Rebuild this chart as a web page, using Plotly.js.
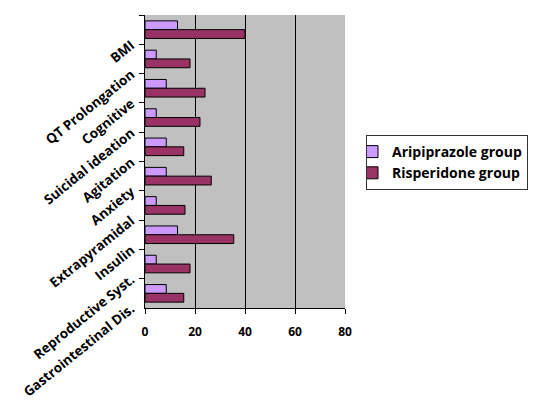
<!DOCTYPE html>
<html>
<head>
<meta charset="utf-8">
<script src="https://cdn.plot.ly/plotly-3.0.1.min.js"></script>
<style>html,body{margin:0;padding:0;background:#fff;}#chart{width:539px;height:400px;}</style>
</head>
<body>
<div id="chart"></div>
<script>
const categories = ["BMI", "QT Prolongation", "Cognitive", "Suicidal ideation", "Agitation", "Anxiety", "Extrapyramidal", "Insulin", "Reproductive Syst.", "Gastrointestinal Dis."];
const aripiprazole = [13, 4.5, 8.5, 4.5, 8.5, 8.5, 4.5, 13, 4.5, 8.5];
const risperidone = [40, 18, 24, 22, 15.5, 26.5, 16, 35.5, 18, 15.5];
const seriesNames = ["Aripiprazole group", "Risperidone group"];
const xTicks = [0, 20, 40, 60, 80];

const FONT = "Open Sans, DejaVu Sans, sans-serif";
const traces = [
  {type: "bar", orientation: "h", name: seriesNames[0], y: categories, x: aripiprazole,
   marker: {color: "#CC99FF", line: {color: "#000", width: 1}}},
  {type: "bar", orientation: "h", name: seriesNames[1], y: categories, x: risperidone,
   marker: {color: "#993366", line: {color: "#000", width: 1}}}
];
const layout = {
  width: 539, height: 400,
  margin: {l: 145, r: 194, t: 15, b: 92, autoexpand: false},
  paper_bgcolor: "#fff", plot_bgcolor: "#C0C0C0",
  barmode: "group", bargap: 0.4, bargroupgap: 0,
  font: {family: FONT, color: "#000", size: 12},
  showlegend: true,
  legend: {x: (366 - 145) / 200, y: (308 - 135) / 293, xanchor: "left", yanchor: "top",
           borderwidth: 1, bordercolor: "#333", indentation: -15,
           font: {family: FONT, size: 14, weight: "bold"}, bgcolor: "#fff", tracegroupgap: 0, itemwidth: 30},
  xaxis: {range: [0, 80], tickvals: xTicks, ticktext: xTicks.map(String), showgrid: true, gridcolor: "#000", gridwidth: 1,
          zeroline: false, showline: true, linecolor: "#000", ticks: "outside", ticklen: 5, tickcolor: "#000",
          ticklabelstandoff: 8,
          tickfont: {family: FONT, size: 12, weight: "bold"}, fixedrange: true},
  yaxis: {type: "category", autorange: "reversed", tickson: "boundaries", ticks: "outside", ticklen: 5, tickcolor: "#000",
          showline: true, linecolor: "#000", showgrid: false, tickangle: -39,
          ticklabelstandoff: 10, ticklabelshift: -14,
          tickfont: {family: FONT, size: 13.5, weight: "bold"}, fixedrange: true}
};
Plotly.newPlot("chart", traces, layout, {displayModeBar: false, staticPlot: true});
</script>
</body>
</html>
